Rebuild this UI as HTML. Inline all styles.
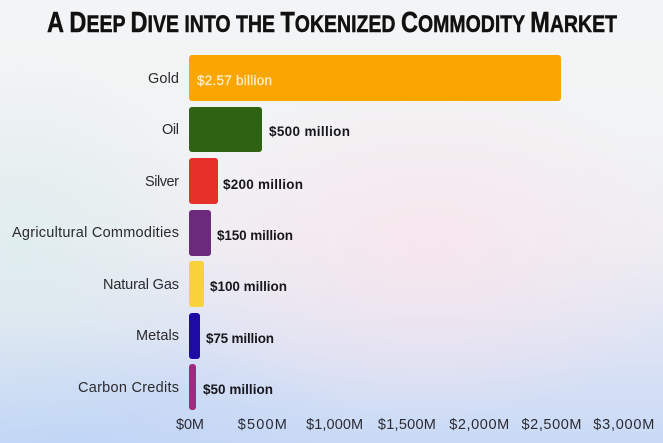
<!DOCTYPE html>
<html>
<head>
<meta charset="utf-8">
<style>
  html,body{margin:0;padding:0;}
  body{width:663px;height:443px;overflow:hidden;position:relative;
    background:
      radial-gradient(ellipse 260px 170px at 430px 250px, rgba(250,228,236,0.75), rgba(250,228,236,0) 100%),
      radial-gradient(ellipse 200px 200px at 20px 250px, rgba(214,236,236,0.6), rgba(214,236,236,0) 100%),
      radial-gradient(ellipse 300px 120px at 60px 443px, rgba(190,212,246,0.7), rgba(190,212,246,0) 100%),
      linear-gradient(180deg, #f3f4f5 0%, #f2f3f4 30%, #eeeef2 55%, #dde3f4 78%, #c9daf6 100%);
  }
  svg{position:absolute;left:0;top:0;}
  .cat{font-family:"Liberation Sans",sans-serif;font-size:14.5px;fill:#2a2a2e;}
  .val{font-family:"Liberation Sans",sans-serif;font-size:13.5px;font-weight:bold;fill:#17171c;}
  .tick{font-family:"Liberation Sans",sans-serif;font-size:14.5px;fill:#2b2b36;}
  .title{font-family:"Liberation Sans Narrow","Liberation Sans",sans-serif;font-weight:bold;fill:#111;stroke:#111;stroke-width:0.5;}
</style>
</head>
<body>
<svg width="663" height="443" viewBox="0 0 663 443" xmlns="http://www.w3.org/2000/svg">
  <text class="title" x="47" y="32" textLength="570" lengthAdjust="spacingAndGlyphs"><tspan font-size="29">A</tspan><tspan font-size="24"> </tspan><tspan font-size="29">D</tspan><tspan font-size="24">EEP </tspan><tspan font-size="29">D</tspan><tspan font-size="24">IVE INTO THE </tspan><tspan font-size="29">T</tspan><tspan font-size="24">OKENIZED </tspan><tspan font-size="29">C</tspan><tspan font-size="24">OMMODITY </tspan><tspan font-size="29">M</tspan><tspan font-size="24">ARKET</tspan></text>

  <!-- bars -->
  <rect x="189" y="55" width="372" height="46" rx="3" fill="#f9a603"/>
  <rect x="189" y="107" width="73" height="45" rx="3" fill="#2f6212"/>
  <rect x="189" y="158" width="29" height="46" rx="3" fill="#e6302a"/>
  <rect x="189" y="210" width="22" height="46" rx="3" fill="#6b2a7b"/>
  <rect x="189" y="261" width="15" height="46" rx="3" fill="#f8d23a"/>
  <rect x="189" y="313" width="11" height="46" rx="3" fill="#1d0ba3"/>
  <rect x="189" y="364" width="7" height="46" rx="3" fill="#a02a80"/>

  <!-- category labels -->
  <text class="cat" x="179" y="83" text-anchor="end" textLength="31">Gold</text>
  <text class="cat" x="179" y="134" text-anchor="end" textLength="17">Oil</text>
  <text class="cat" x="179" y="186" text-anchor="end" textLength="34">Silver</text>
  <text class="cat" x="179" y="237" text-anchor="end" textLength="167">Agricultural Commodities</text>
  <text class="cat" x="179" y="289" text-anchor="end" textLength="76">Natural Gas</text>
  <text class="cat" x="179" y="340" text-anchor="end" textLength="43">Metals</text>
  <text class="cat" x="179" y="392" text-anchor="end" textLength="101">Carbon Credits</text>

  <!-- value labels -->
  <text x="197" y="85" font-family="Liberation Sans, sans-serif" font-size="13.5" fill="#fcecc8" stroke="#fcecc8" stroke-width="0.3" textLength="75">$2.57 billion</text>
  <text class="val" x="269" y="136" textLength="81">$500 million</text>
  <text class="val" x="223" y="189" textLength="80">$200 million</text>
  <text class="val" x="217" y="240" textLength="76">$150 million</text>
  <text class="val" x="210" y="291" textLength="77">$100 million</text>
  <text class="val" x="206" y="343" textLength="68">$75 million</text>
  <text class="val" x="203" y="394" textLength="70">$50 million</text>

  <!-- ticks -->
  <text class="tick" x="190" y="429" text-anchor="middle" textLength="28">$0M</text>
  <text class="tick" x="262.3" y="429" text-anchor="middle" textLength="49">$500M</text>
  <text class="tick" x="334.6" y="429" text-anchor="middle" textLength="57">$1,000M</text>
  <text class="tick" x="406.9" y="429" text-anchor="middle" textLength="58">$1,500M</text>
  <text class="tick" x="479.2" y="429" text-anchor="middle" textLength="60">$2,000M</text>
  <text class="tick" x="551.5" y="429" text-anchor="middle" textLength="60">$2,500M</text>
  <text class="tick" x="623.8" y="429" text-anchor="middle" textLength="61">$3,000M</text>
</svg>
</body>
</html>
